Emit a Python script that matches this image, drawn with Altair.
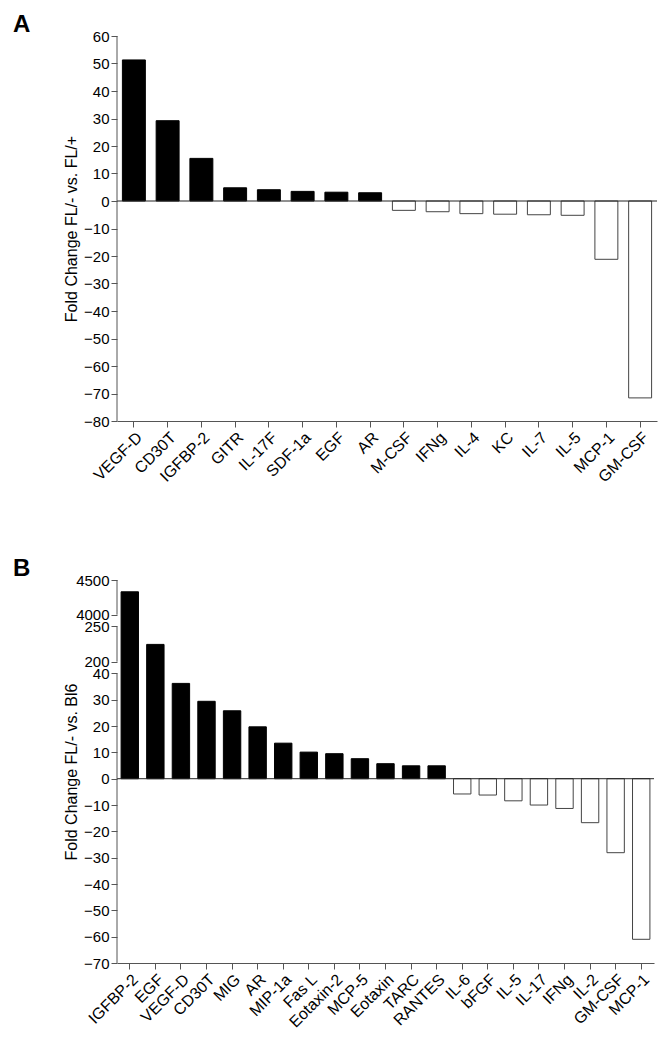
import altair as alt
import pandas as pd

# ---------------- data ----------------
a_categories = ["VEGF-D", "CD30T", "IGFBP-2", "GITR", "IL-17F", "SDF-1a", "EGF", "AR",
                "M-CSF", "IFNg", "IL-4", "KC", "IL-7", "IL-5", "MCP-1", "GM-CSF"]
a_values = [51.3, 29.2, 15.5, 4.8, 4.1, 3.5, 3.2, 3.0,
            -3.4, -3.9, -4.6, -4.8, -5.0, -5.2, -21.2, -71.6]
a_ticks = [-80, -70, -60, -50, -40, -30, -20, -10, 0, 10, 20, 30, 40, 50, 60]
a_segments_lo = [-80]
a_segments_hi = [60]

b_categories = ["IGFBP-2", "EGF", "VEGF-D", "CD30T", "MIG", "AR", "MIP-1a", "Fas L",
                "Eotaxin-2", "MCP-5", "Eotaxin", "TARC", "RANTES", "IL-6", "bFGF",
                "IL-5", "IL-17", "IFNg", "IL-2", "GM-CSF", "MCP-1"]
b_values = [4330, 224.5, 36.2, 29.4, 25.8, 19.7, 13.5, 10.1,
            9.5, 7.6, 5.7, 4.9, 4.9, -5.8, -6.2,
            -8.4, -10.0, -11.3, -16.7, -28.1, -61.0]
b_ticks = [-70, -60, -50, -40, -30, -20, -10, 0, 10, 20, 30, 40, 200, 250, 4000, 4500]
b_segments_lo = [-70, 200, 4000]
b_segments_hi = [40, 250, 4500]
b_domain = [-70, 40, 200, 250, 4000, 4500]

FONT = "Liberation Sans"
AXIS_GRAY = "#555555"


def panel(letter, cats, vals, ticks, seg_lo, seg_hi, ytitle, width, height, yscale):
    bars_df = pd.DataFrame({
        "cat": cats,
        "val": vals,
        "base": [0] * len(vals),
        "dir": ["up" if v > 0 else "down" for v in vals],
    })
    seg_df = pd.DataFrame({"base": seg_lo, "val": seg_hi})
    zero_df = pd.DataFrame({"val": [0]})

    yaxis = alt.Axis(
        title=ytitle, values=ticks, format="d", domain=False, grid=False,
        labelOverlap=False, labelFlush=False, tickSize=6, tickColor=AXIS_GRAY,
        labelFontSize=15, labelFont=FONT, labelColor="black", labelPadding=2,
        titleFont=FONT, titleFontSize=16, titleFontWeight="normal",
        titleColor="black", titlePadding=4, minExtent=34, maxExtent=34,
    )
    y = alt.Y("val:Q", scale=yscale, axis=yaxis)
    xaxis = alt.Axis(
        title=None, labelAngle=-45, labelFontSize=16, labelFont=FONT,
        labelColor="black", tickSize=6, tickColor=AXIS_GRAY, domainColor=AXIS_GRAY,
        labelPadding=2, grid=False,
    )
    x = alt.X("cat:N", sort=cats,
              scale=alt.Scale(paddingInner=0.32, paddingOuter=0.16), axis=xaxis)

    bars = alt.Chart(bars_df).mark_bar(strokeWidth=1).encode(
        x=x,
        y=y,
        y2="base:Q",
        fill=alt.Fill("dir:N", scale=alt.Scale(domain=["up", "down"], range=["#000000", "#ffffff"]), legend=None),
        stroke=alt.Stroke("dir:N", scale=alt.Scale(domain=["up", "down"], range=["#000000", "#444444"]), legend=None),
    )
    zero = alt.Chart(zero_df).mark_rule(color="#222222", strokeWidth=1).encode(y=y)
    segs = alt.Chart(seg_df).mark_rule(color=AXIS_GRAY, strokeWidth=1).encode(
        x=alt.value(0), y=y, y2="base:Q"
    )
    return alt.layer(bars, zero, segs).properties(
        width=width,
        height=height,
        title=alt.TitleParams(letter, anchor="start", frame="bounds", fontSize=24,
                              fontWeight="bold", font=FONT, color="black", dx=-50,
                              offset=-8),
    )


a_scale = alt.Scale(domain=[-80, 60], nice=False, zero=False)
b_scale = alt.Scale(domain=b_domain, range=[383, 93.4, 81.7, 46.4, 34.7, 0],
                    nice=False, zero=False)

chart_a = panel("A", a_categories, a_values, a_ticks, a_segments_lo, a_segments_hi,
                "Fold Change FL/- vs. FL/+", 540, 385, a_scale)
chart_b = panel("B", b_categories, b_values, b_ticks, b_segments_lo, b_segments_hi,
                "Fold Change FL/- vs. Bl6", 537, 383, b_scale)

chart = alt.vconcat(chart_a, chart_b, spacing=72).configure_view(strokeWidth=0)

chart.save("out.html", embed_options={"renderer": "svg", "actions": False})
